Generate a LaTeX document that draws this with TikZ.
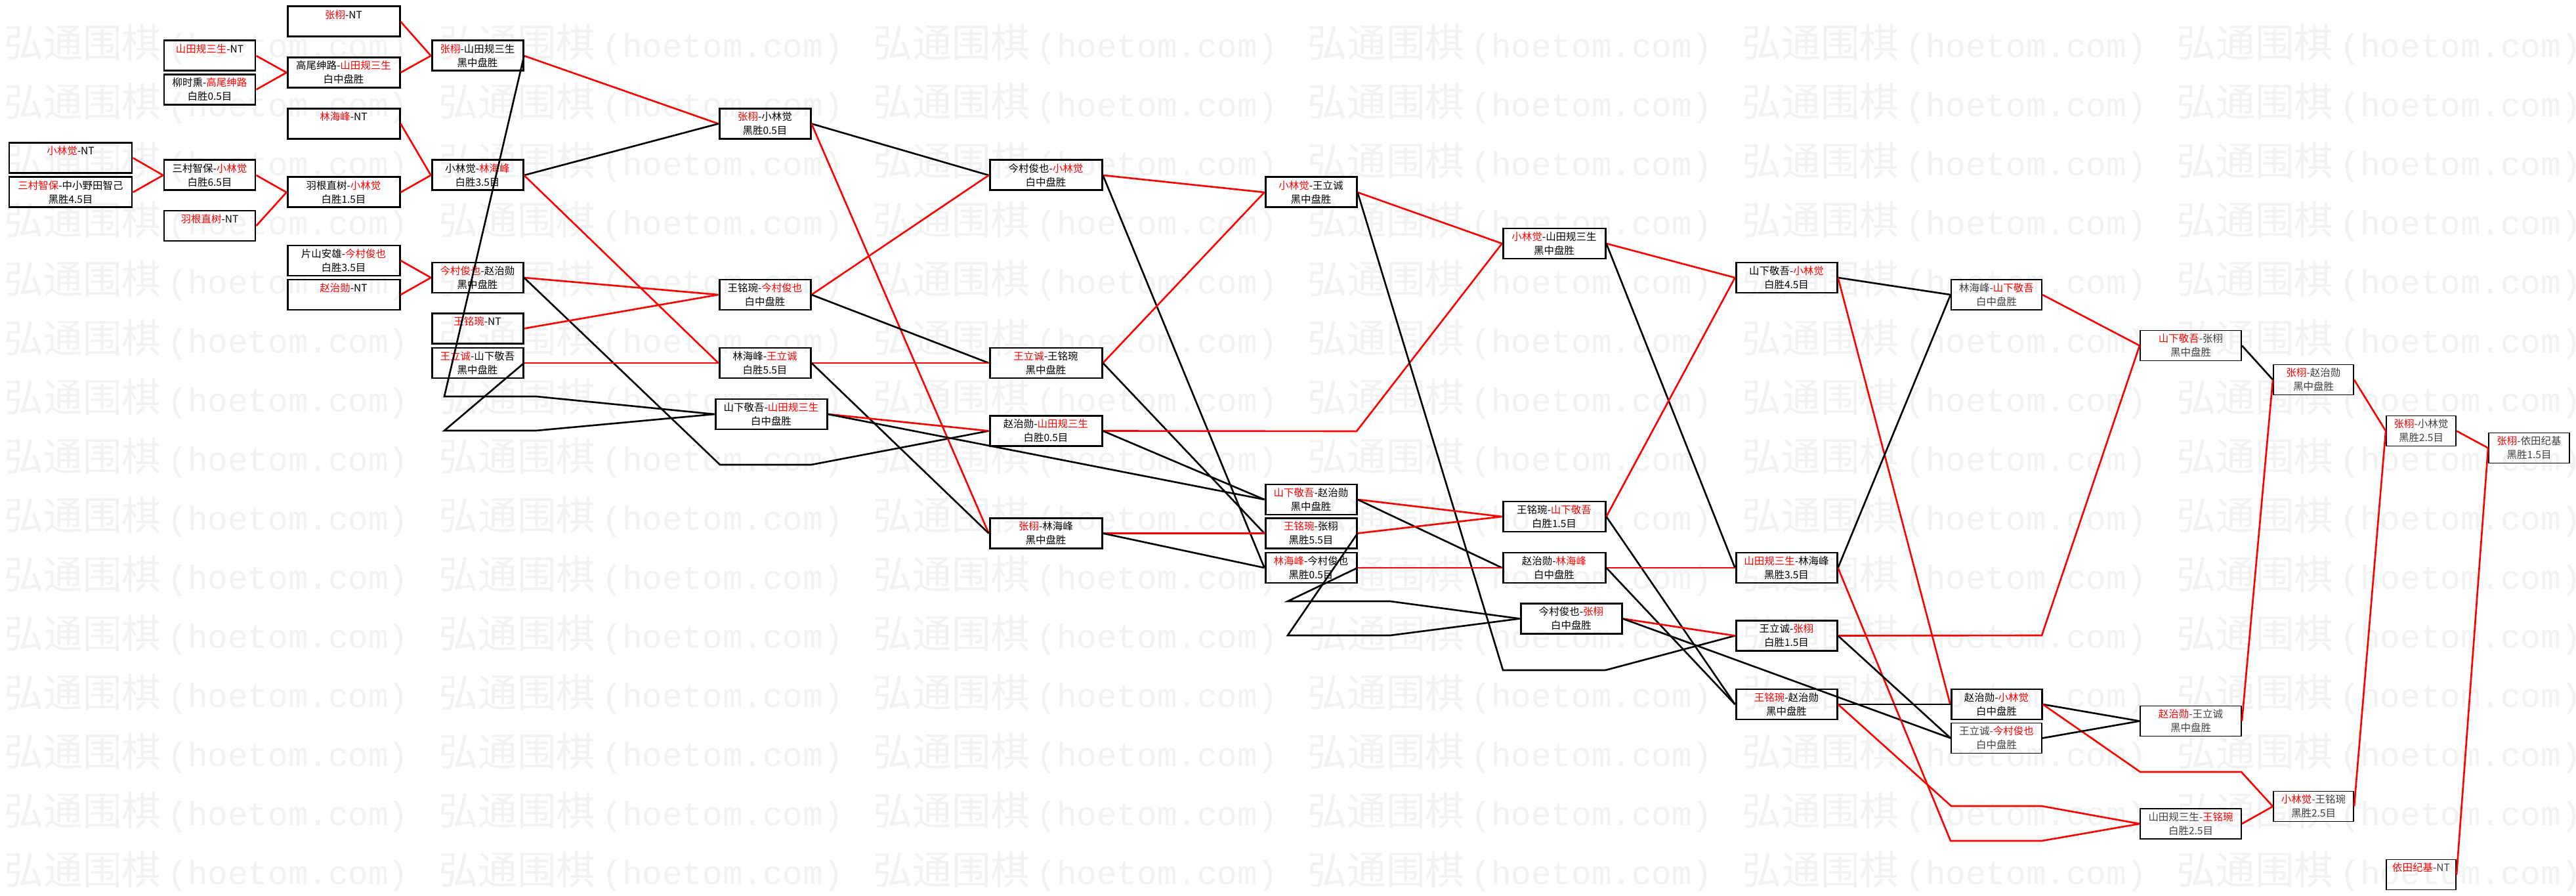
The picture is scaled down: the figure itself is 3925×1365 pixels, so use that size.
\documentclass[tikz,border=0pt]{standalone}
\usepackage{fontspec}
\setmainfont{Noto Sans CJK SC}
\newfontfamily\wmlatin{Liberation Mono}
\usepackage{tikz}
\newcommand{\rd}[1]{\textcolor{red}{#1}}
\newcommand{\boxfont}{\fontsize{4.4}{6}\selectfont}
\newcommand{\wmfont}{\fontsize{17}{18}\selectfont}

\begin{document}
\begin{tikzpicture}[x=0.1mm,y=-0.1mm,
	game/.style={rectangle,draw,line width=0.85pt,minimum height=4.6mm,inner sep=0pt,align=center,font=\boxfont},
	late game/.style={game,line width=0.55pt,text=black!75},
	win/.style={draw=red,line width=0.75pt},
	lose/.style={draw=black,line width=0.75pt},
	watermark/.style={anchor=west,inner sep=0pt,text=black!5,font=\wmfont}]
	
	\clip (0,0) rectangle (3925,1365);
	\fill[white] (0,0) rectangle (3925,1365);
	\foreach \r in {0,...,14} {
		\foreach \c in {0,...,5} {
			\node[watermark] at (6+662*\c,68+90*\r) {弘通围棋\,{\wmlatin\fontsize{14.5}{18}\selectfont(hoetom.com)}};
		}
	}
	
	% first rounds
	\node[game,minimum width=18.7mm] (kobNT) at (107.5,240.5) {\rd{小林觉}-NT\\\phantom{白}};
	\node[game,minimum width=18.7mm] (mimNak) at (107.5,293) {\rd{三村智保}-中小野田智己\\黑胜4.5目};
	
	\node[game,minimum width=13.9mm] (yamNT) at (319.5,85) {\rd{山田规三生}-NT\\\phantom{白}};
	\node[game,minimum width=13.9mm] (ryuTak) at (319.5,136.5) {柳时熏-\rd{高尾绅路}\\白胜0.5目};
	\node[game,minimum width=13.9mm] (mimKob) at (319.5,267) {三村智保-\rd{小林觉}\\白胜6.5目};
	\node[game,minimum width=13.9mm] (haneNT) at (319.5,344) {\rd{羽根直树}-NT\\\phantom{白}};
	
	\node[game,minimum width=17.1mm] (zhaNT) at (523.5,33) {\rd{张栩}-NT\\\phantom{白}};
	\node[game,minimum width=17.1mm] (takYam) at (523.5,110.5) {高尾绅路-\rd{山田规三生}\\白中盘胜};
	\node[game,minimum width=17.1mm] (rinNT) at (523.5,188.5) {\rd{林海峰}-NT\\\phantom{白}};
	\node[game,minimum width=17.1mm] (haneKob) at (523.5,293) {羽根直树-\rd{小林觉}\\白胜1.5目};
	\node[game,minimum width=17.1mm] (kataIma) at (523.5,397) {片山安雄-\rd{今村俊也}\\白胜3.5目};
	\node[game,minimum width=17.1mm] (choNT) at (523.5,449) {\rd{赵治勋}-NT\\\phantom{白}};
	
	\node[game,minimum width=13.9mm] (zhaYam) at (727.5,85) {\rd{张栩}-山田规三生\\黑中盘胜};
	\node[game,minimum width=13.9mm] (kobRin) at (727.5,267) {小林觉-\rd{林海峰}\\白胜3.5目};
	\node[game,minimum width=13.9mm] (imaCho) at (727.5,423) {\rd{今村俊也}-赵治勋\\黑中盘胜};
	\node[game,minimum width=13.9mm] (wanNT) at (727.5,500.5) {\rd{王铭琬}-NT\\\phantom{白}};
	\node[game,minimum width=13.9mm] (oYam) at (727.5,553) {\rd{王立诚}-山下敬吾\\黑中盘胜};
	
	\node[game,minimum width=13.9mm] (zhaKob) at (1165.5,188.5) {\rd{张栩}-小林觉\\黑胜0.5目};
	\node[game,minimum width=13.9mm] (wanIma) at (1165.5,449) {王铭琬-\rd{今村俊也}\\白中盘胜};
	\node[game,minimum width=13.9mm] (rinO) at (1165.5,553) {林海峰-\rd{王立诚}\\白胜5.5目};
	\node[game,minimum width=17mm] (yamYam) at (1175,631) {山下敬吾-\rd{山田规三生}\\白中盘胜};
	
	\node[game,minimum width=17.1mm] (imaKob) at (1593.5,267) {今村俊也-\rd{小林觉}\\白中盘胜};
	\node[game,minimum width=17.1mm] (oWan) at (1593.5,553) {\rd{王立诚}-王铭琬\\黑中盘胜};
	\node[game,minimum width=17.1mm] (choYam) at (1593.5,656.5) {赵治勋-\rd{山田规三生}\\白胜0.5目};
	\node[game,minimum width=17.1mm] (zhaRin) at (1593.5,812.5) {\rd{张栩}-林海峰\\黑中盘胜};
	
	\node[game,minimum width=13.9mm] (kobO) at (1997.5,293) {\rd{小林觉}-王立诚\\黑中盘胜};
	\node[game,minimum width=13.9mm] (yamCho) at (1997.5,761) {\rd{山下敬吾}-赵治勋\\黑中盘胜};
	\node[game,minimum width=13.9mm] (wanZha) at (1997.5,812.5) {\rd{王铭琬}-张栩\\黑胜5.5目};
	\node[game,minimum width=13.9mm] (rinIma) at (1997.5,865) {\rd{林海峰}-今村俊也\\黑胜0.5目};
	
	\node[game,minimum width=15.6mm] (kobYam) at (2368,371) {\rd{小林觉}-山田规三生\\黑中盘胜};
	\node[game,minimum width=15.6mm] (wanYam) at (2368,787) {王铭琬-\rd{山下敬吾}\\白胜1.5目};
	\node[game,minimum width=15.6mm] (choRin) at (2368,865) {赵治勋-\rd{林海峰}\\白中盘胜};
	\node[game,minimum width=15.4mm] (imaZha) at (2394,942.5) {今村俊也-\rd{张栩}\\白中盘胜};
	
	\node[game,minimum width=15.4mm] (yamKob) at (2722,423) {山下敬吾-\rd{小林觉}\\白胜4.5目};
	\node[game,minimum width=15.4mm] (yamaRin) at (2722,865) {\rd{山田规三生}-林海峰\\黑胜3.5目};
	\node[game,minimum width=15.4mm] (oZha) at (2722,968.5) {王立诚-\rd{张栩}\\白胜1.5目};
	\node[game,minimum width=15.4mm] (wanCho) at (2722,1073) {\rd{王铭琬}-赵治勋\\黑中盘胜};
	
	% later rounds
	\node[late game,minimum width=13.8mm] (rinYam) at (3042,449) {林海峰-\rd{山下敬吾}\\白中盘胜};
	\node[game,minimum width=13.8mm] (choKob) at (3042,1073) {赵治勋-\rd{小林觉}\\白中盘胜};
	\node[late game,minimum width=13.8mm] (oIma) at (3042,1124.5) {王立诚-\rd{今村俊也}\\白中盘胜};
	
	\node[late game,minimum width=15.4mm] (yamZha) at (3338,526.5) {\rd{山下敬吾}-张栩\\黑中盘胜};
	\node[late game,minimum width=15.4mm] (choO) at (3338,1098.5) {\rd{赵治勋}-王立诚\\黑中盘胜};
	\node[late game,minimum width=15.4mm] (yamaWan) at (3338,1255) {山田规三生-\rd{王铭琬}\\白胜2.5目};
	
	\node[late game,minimum width=12.2mm] (zhaCho) at (3525,578.5) {\rd{张栩}-赵治勋\\黑中盘胜};
	\node[late game,minimum width=12.2mm] (kobWan) at (3525,1228.5) {\rd{小林觉}-王铭琬\\黑胜2.5目};
	
	\node[late game,minimum width=10.6mm] (zhaKobB) at (3689,656.5) {\rd{张栩}-小林觉\\黑胜2.5目};
	\node[late game,minimum width=10.6mm] (yodaNT) at (3689,1332.5) {\rd{依田纪基}-NT\\\phantom{白}};
	
	\node[late game,minimum width=12.3mm] (zhaYoda) at (3853.5,682.5) {\rd{张栩}-依田纪基\\黑胜1.5目};
	
	% bend points
	\coordinate (j1) at (677,604);
	\coordinate (j2) at (817,604);
	\coordinate (j3) at (677,656);
	\coordinate (j4) at (817,656);
	\coordinate (j5) at (1097,708);
	\coordinate (j6) at (1236,708);
	\coordinate (j7) at (2067,657);
	\coordinate (j8) at (2290,1021);
	\coordinate (j9) at (2446,1021);
	\coordinate (j10) at (1962,968);
	\coordinate (j11) at (2118,968);
	\coordinate (j12) at (1962,916);
	\coordinate (j13) at (2118,916);
	\coordinate (j14) at (2972,1281);
	\coordinate (j15) at (3111,1281);
	\coordinate (j16) at (3111,968);
	\coordinate (j17) at (2973,1228);
	\coordinate (j18) at (3111,1228);
	\coordinate (j19) at (3261,1176);
	\coordinate (j20) at (3415,1176);
	
	\draw[win] (yamNT.east) -- (takYam.west);
	\draw[win] (ryuTak.east) -- (takYam.west);
	\draw[win] (kobNT.east) -- (mimKob.west);
	\draw[win] (mimNak.east) -- (mimKob.west);
	\draw[win] (mimKob.east) -- (haneKob.west);
	\draw[win] (haneNT.east) -- (haneKob.west);
	\draw[win] (zhaNT.east) -- (zhaYam.west);
	\draw[win] (takYam.east) -- (zhaYam.west);
	\draw[win] (rinNT.east) -- (kobRin.west);
	\draw[win] (haneKob.east) -- (kobRin.west);
	\draw[win] (kataIma.east) -- (imaCho.west);
	\draw[win] (choNT.east) -- (imaCho.west);
	
	\draw[win] (zhaYam.east) -- (zhaKob.west);
	\draw[lose] (zhaYam.east) -- (j1) -- (j2) -- (yamYam.west);
	\draw[lose] (kobRin.east) -- (zhaKob.west);
	\draw[win] (kobRin.east) -- (rinO.west);
	\draw[win] (imaCho.east) -- (wanIma.west);
	\draw[lose] (imaCho.east) -- (j5) -- (j6) -- (choYam.west);
	\draw[win] (wanNT.east) -- (wanIma.west);
	\draw[win] (oYam.east) -- (rinO.west);
	\draw[lose] (oYam.east) -- (j3) -- (j4) -- (yamYam.west);
	
	\draw[lose] (zhaKob.east) -- (imaKob.west);
	\draw[win] (zhaKob.east) -- (zhaRin.west);
	\draw[win] (wanIma.east) -- (imaKob.west);
	\draw[lose] (wanIma.east) -- (oWan.west);
	\draw[win] (rinO.east) -- (oWan.west);
	\draw[lose] (rinO.east) -- (zhaRin.west);
	\draw[win] (yamYam.east) -- (choYam.west);
	\draw[lose] (yamYam.east) -- (yamCho.west);
	
	\draw[win] (imaKob.east) -- (kobO.west);
	\draw[lose] (imaKob.east) -- (rinIma.west);
	\draw[win] (oWan.east) -- (kobO.west);
	\draw[lose] (oWan.east) -- (wanZha.west);
	\draw[win] (choYam.east) -- (j7) -- (kobYam.west);
	\draw[lose] (choYam.east) -- (yamCho.west);
	\draw[win] (zhaRin.east) -- (wanZha.west);
	\draw[lose] (zhaRin.east) -- (rinIma.west);
	
	\draw[win] (kobO.east) -- (kobYam.west);
	\draw[lose] (kobO.east) -- (j8) -- (j9) -- (oZha.west);
	\draw[win] (yamCho.east) -- (wanYam.west);
	\draw[lose] (yamCho.east) -- (choRin.west);
	\draw[win] (wanZha.east) -- (wanYam.west);
	\draw[lose] (wanZha.east) -- (j10) -- (j11) -- (imaZha.west);
	\draw[win] (rinIma.east) -- (choRin.west);
	\draw[lose] (rinIma.east) -- (j12) -- (j13) -- (imaZha.west);
	
	\draw[win] (kobYam.east) -- (yamKob.west);
	\draw[lose] (kobYam.east) -- (yamaRin.west);
	\draw[win] (wanYam.east) -- (yamKob.west);
	\draw[lose] (wanYam.east) -- (wanCho.west);
	\draw[win] (choRin.east) -- (yamaRin.west);
	\draw[lose] (choRin.east) -- (wanCho.west);
	\draw[win] (imaZha.east) -- (oZha.west);
	\draw[lose] (imaZha.east) -- (oIma.west);
	
	\draw[lose] (yamKob.east) -- (rinYam.west);
	\draw[win] (yamKob.east) -- (choKob.west);
	\draw[lose] (yamaRin.east) -- (rinYam.west);
	\draw[win] (yamaRin.east) -- (j14) -- (j15) -- (yamaWan.west);
	\draw[win] (oZha.east) -- (j16) -- (yamZha.west);
	\draw[lose] (oZha.east) -- (oIma.west);
	\draw[lose] (wanCho.east) -- (choKob.west);
	\draw[win] (wanCho.east) -- (j17) -- (j18) -- (yamaWan.west);
	
	\draw[win] (rinYam.east) -- (yamZha.west);
	\draw[lose] (choKob.east) -- (choO.west);
	\draw[win] (choKob.east) -- (j19) -- (j20) -- (kobWan.west);
	\draw[lose] (oIma.east) -- (choO.west);
	
	\draw[lose] (yamZha.east) -- (zhaCho.west);
	\draw[win] (choO.east) -- (zhaCho.west);
	\draw[win] (yamaWan.east) -- (kobWan.west);
	\draw[win] (zhaCho.east) -- (zhaKobB.west);
	\draw[win] (kobWan.east) -- (zhaKobB.west);
	\draw[win] (zhaKobB.east) -- (zhaYoda.west);
	\draw[win] (yodaNT.east) -- (zhaYoda.west);
\end{tikzpicture}
\end{document}
